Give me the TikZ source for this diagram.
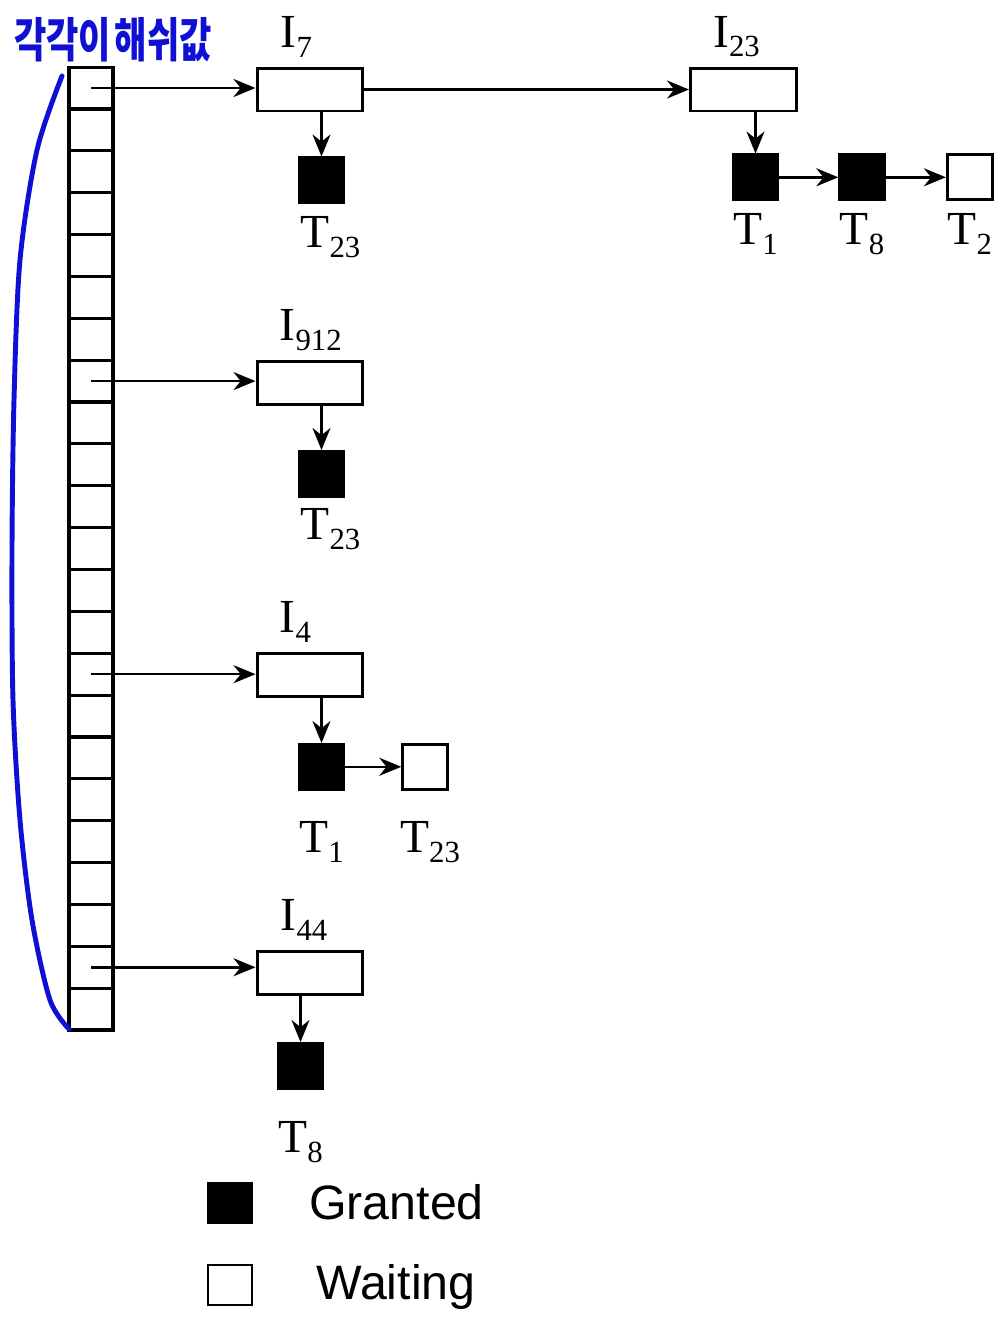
\documentclass[tikz,border=0pt]{standalone}
\usepackage{fontspec}
\setmainfont{Liberation Serif}
\setsansfont{Liberation Sans}
\newfontfamily\krfont{Noto Sans CJK KR}
\usetikzlibrary{arrows.meta,positioning}
\definecolor{pen}{RGB}{16,16,212}
\newcommand\lsub[1]{\raisebox{-0.21em}{\fontsize{17.5}{19}\selectfont #1}}

\begin{document}
\begin{tikzpicture}[
    x=0.02cm, y=-0.02cm, line width=1.4pt,
    >={Stealth[length=4.4mm,width=3.6mm]},
    cell/.style={draw, line width=1.8pt, minimum width=0.88cm, minimum height=0.837cm, inner sep=0},
    lock/.style={draw, line width=1.7pt, minimum width=2.12cm, minimum height=0.86cm, inner sep=0},
    held/.style={draw, fill=black, line width=1.5pt, minimum size=0.9cm, inner sep=0},
    wait/.style={draw, fill=white, line width=1.5pt, minimum size=0.9cm, inner sep=0},
    lbl/.style={font=\fontsize{27}{30}\selectfont, inner sep=0},
    legtxt/.style={font=\sffamily\fontsize{27.5}{30}\selectfont, anchor=west, inner sep=0}
]
\useasboundingbox (0,0) rectangle (1000,1319);

% hash table
\foreach \i in {0,...,22}
    \node[cell] (h\i) at (91, {88+41.87*\i}) {};

% lock entries
\node[lock] (i7) at (310,89.5) {};
\node[lock] (i23) at (743.5,89.5) {};
\node[lock] (i912) at (310,383) {};
\node[lock] (i4) at (310,675) {};
\node[lock] (i44) at (310,973) {};

\node[lbl, above right=0.16cm and 0.48cm of i7.north west] {I\lsub{7}};
\node[lbl, above right=0.16cm and 0.46cm of i23.north west] {I\lsub{23}};
\node[lbl, above right=0.16cm and 0.46cm of i912.north west] {I\lsub{912}};
\node[lbl, above right=0.16cm and 0.46cm of i4.north west] {I\lsub{4}};
\node[lbl, above right=0.16cm and 0.48cm of i44.north west] {I\lsub{44}};

% transactions
\node[held, below=0.88cm of i7, xshift=0.23cm] (t23a) {};
\node[held, below=0.82cm of i23, xshift=0.24cm] (t1a) {};
\node[held, right=1.18cm of t1a] (t8a) {};
\node[wait, right=1.2cm of t8a] (t2a) {};
\node[held, below=0.88cm of i912, xshift=0.23cm] (t23b) {};
\node[held, below=0.9cm of i4, xshift=0.23cm] (t1b) {};
\node[wait, right=1.12cm of t1b] (t23c) {};
\node[held, below=0.92cm of i44, xshift=-0.19cm] (t8b) {};

\node[lbl, below=0.22cm of t23a, xshift=0.18cm] {T\lsub{23}};
\node[lbl, below=0.22cm of t1a] {T\lsub{1}};
\node[lbl, below=0.22cm of t8a] {T\lsub{8}};
\node[lbl, below=0.22cm of t2a] {T\lsub{2}};
\node[lbl, below=0.2cm of t23b, xshift=0.18cm] {T\lsub{23}};
\node[lbl, below=0.6cm of t1b] {T\lsub{1}};
\node[lbl, below=0.6cm of t23c, xshift=0.1cm] {T\lsub{23}};
\node[lbl, below=0.62cm of t8b] {T\lsub{8}};

% links
\draw[->] (h0.center) -- (h0 -| i7.west);
\draw[->] (i7) -- (i23);
\draw[->] (h7.center) -- (h7 -| i912.west);
\draw[->] (h14.center) -- (h14 -| i4.west);
\draw[->] (h21.center) -- (h21 -| i44.west);

\draw[->] (t23a.north |- i7.south) -- (t23a);
\draw[->] (t1a.north |- i23.south) -- (t1a);
\draw[->] (t1a) -- (t8a);
\draw[->] (t8a) -- (t2a);
\draw[->] (t23b.north |- i912.south) -- (t23b);
\draw[->] (t1b.north |- i4.south) -- (t1b);
\draw[->] (t1b) -- (t23c);
\draw[->] (t8b.north |- i44.south) -- (t8b);

% legend
\node[held, minimum width=0.88cm, minimum height=0.8cm] (kgrant) at (230,1203) {};
\node[wait, minimum width=0.88cm, minimum height=0.8cm] (kwait) at (230,1285) {};
\node[legtxt] at (308,1202) {Granted};
\node[legtxt] at (315,1287) {Waiting};

% handwritten note
\node[text=pen, font=\krfont\bfseries\fontsize{20}{22}\selectfont, inner sep=0] (note) at (113,40)
    {\scalebox{1}[1.35]{각각이\hspace{2pt}해쉬값}};
\draw[pen, line width=2.8pt, line cap=round] plot[smooth] coordinates
    {(62,76) (37,150) (20,260) (14,400) (12,550) (13,700) (20,820) (32,920) (50,1000) (69,1029)};
\end{tikzpicture}
\end{document}
